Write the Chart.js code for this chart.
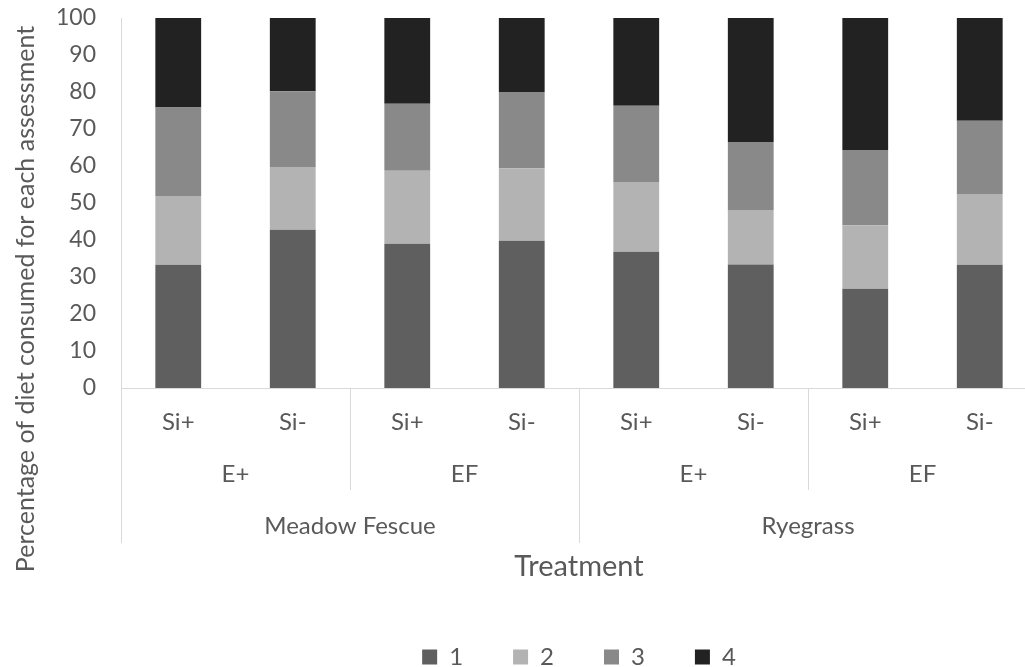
<!DOCTYPE html>
<html>
<head>
<meta charset="utf-8">
<script src="https://cdn.jsdelivr.net/npm/chart.js@4/dist/chart.umd.min.js"></script>
<style>
  html, body { margin: 0; padding: 0; overflow: hidden; background: #ffffff; }
  #wrap { position: relative; width: 1037px; height: 667px; }
</style>
</head>
<body>
<div id="wrap"><canvas id="chart"></canvas></div>
<script>
// Treatment levels (innermost to outermost)
const silicon   = ['Si+', 'Si-', 'Si+', 'Si-', 'Si+', 'Si-', 'Si+', 'Si-'];
const endophyte = ['E+', 'EF', 'E+', 'EF'];
const grass     = ['Meadow Fescue', 'Ryegrass'];

// Percentage of diet consumed at each assessment (1-4)
const assessment1 = [33.3, 42.8, 39.0, 39.8, 36.8, 33.4, 26.8, 33.3];
const assessment2 = [18.6, 16.9, 19.7, 19.6, 18.9, 14.7, 17.2, 19.1];
const assessment3 = [23.9, 20.5, 18.1, 20.6, 20.6, 18.4, 20.3, 19.8];
const assessment4 = [24.2, 19.8, 23.2, 20.0, 23.7, 33.5, 35.7, 27.8];

const yTicks = [0, 10, 20, 30, 40, 50, 60, 70, 80, 90, 100];

const TEXT = '#595959';
const RULE = '#d9d9d9';
const FONT = 'Lato';

// Draws the grouped category rows, their dividers and the rotated y title
const groupAxis = {
  id: 'groupAxis',
  afterDraw(chart) {
    const { ctx, chartArea, scales: { x } } = chart;
    const n = silicon.length;
    const edge = i => i === 0 ? chartArea.left
      : i === n ? chartArea.right
      : (x.getPixelForValue(i - 1) + x.getPixelForValue(i)) / 2;
    const per1 = n / endophyte.length;
    const per2 = n / grass.length;

    ctx.save();
    ctx.strokeStyle = RULE;
    ctx.lineWidth = 1;
    for (let k = 0; k <= n; k += per1) {
      const xx = Math.round(edge(k)) + 0.5;
      const end = (k % per2 === 0) ? 543 : 490;
      ctx.beginPath();
      ctx.moveTo(xx, chartArea.bottom);
      ctx.lineTo(xx, end);
      ctx.stroke();
    }

    ctx.fillStyle = TEXT;
    ctx.textAlign = 'center';
    ctx.textBaseline = 'alphabetic';
    ctx.font = `24px ${FONT}`;
    endophyte.forEach((lab, i) => {
      ctx.fillText(lab, (edge(i * per1) + edge((i + 1) * per1)) / 2, 482);
    });
    grass.forEach((lab, j) => {
      ctx.fillText(lab, (edge(j * per2) + edge((j + 1) * per2)) / 2, 534);
    });

    ctx.translate(34, 299);
    ctx.rotate(-Math.PI / 2);
    ctx.font = `25px ${FONT}`;
    ctx.fillText('Percentage of diet consumed for each assessment', 0, 0);
    ctx.restore();
  }
};

const ds = (label, data, color) => ({
  label, data, backgroundColor: color, borderWidth: 0,
  barPercentage: 0.4, categoryPercentage: 1.0
});

new Chart(document.getElementById('chart'), {
  type: 'bar',
  data: {
    labels: silicon,
    datasets: [
      ds('1', assessment1, '#5f5f5f'),
      ds('2', assessment2, '#b3b3b3'),
      ds('3', assessment3, '#898989'),
      ds('4', assessment4, '#222222')
    ]
  },
  options: {
    responsive: true,
    maintainAspectRatio: false,
    animation: false,
    layout: { padding: { top: 18, right: 0, left: 0, bottom: -12 } },
    plugins: {
      tooltip: { enabled: false },
      legend: {
        position: 'bottom',
        fullSize: false,
        labels: {
          boxWidth: 15, boxHeight: 15, padding: 50,
          color: TEXT, font: { family: FONT, size: 24 }
        }
      }
    },
    scales: {
      x: {
        stacked: true,
        offset: true,
        grid: { display: false, drawTicks: false },
        border: { display: true, color: RULE, width: 1 },
        ticks: { color: TEXT, font: { family: FONT, size: 24 }, padding: 20, maxRotation: 0, autoSkip: false },
        title: { display: true, text: 'Treatment', color: TEXT, font: { family: FONT, size: 29 }, padding: { top: 0, bottom: 11 } },
        afterFit: s => { s.height = 207; }
      },
      y: {
        stacked: true,
        min: 0, max: 100,
        afterBuildTicks: s => { s.ticks = yTicks.map(v => ({ value: v })); },
        grid: { display: false, drawTicks: false },
        border: { display: true, color: RULE, width: 1 },
        ticks: { color: TEXT, font: { family: FONT, size: 23 }, padding: 25 },
        afterFit: s => { s.width = 121; s.paddingTop = 12; s.paddingBottom = 12; }
      }
    }
  },
  plugins: [groupAxis]
});
</script>
</body>
</html>
